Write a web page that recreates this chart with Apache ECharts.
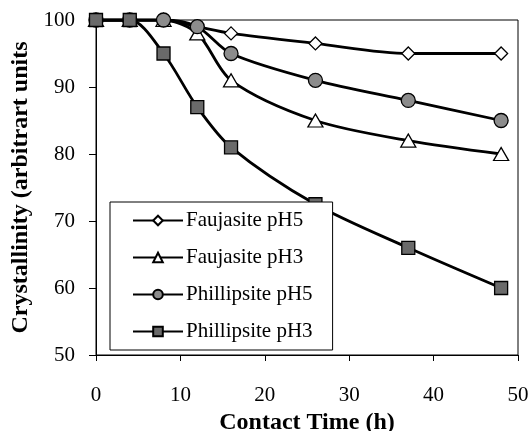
<!DOCTYPE html>
<html>
<head>
<meta charset="utf-8">
<script src="https://cdn.jsdelivr.net/npm/echarts@6/dist/echarts.min.js"></script>
<style>
  html, body { margin: 0; padding: 0; background: #fff; }
  #main { width: 531px; height: 431px; }
</style>
</head>
<body>
<div id="main"></div>
<script>
// contact time (h)
var hours = [0, 4, 8, 12, 16, 26, 37, 48];

// crystallinity values
var faujasitePH5 = [100, 100, 100, 99, 98, 96.5, 95, 95];
var faujasitePH3 = [100, 100, 100, 98, 91, 85, 82, 80];
var phillipsitePH5 = [100, 100, 100, 99, 95, 91, 88, 85];
var phillipsitePH3 = [100, 100, 95, 87, 81, 72.5, 66, 60];

var seriesNames = ['Faujasite pH5', 'Faujasite pH3', 'Phillipsite pH5', 'Phillipsite pH3'];

function pairs(ys) {
  return hours.map(function (h, i) { return [h, ys[i]]; });
}

var font = '"Liberation Serif", "Times New Roman", serif';

function makeSeries(name, ys, symbol, size, fill) {
  return {
    name: name,
    type: 'line',
    data: pairs(ys),
    smooth: 0.3,
    symbol: symbol,
    symbolSize: size,
    lineStyle: { color: '#000', width: 2.8 },
    itemStyle: { color: fill, borderColor: '#000', borderWidth: 1.3 },
    emphasis: { disabled: true }
  };
}

var chart = echarts.init(document.getElementById('main'));
chart.setOption({
  animation: false,
  backgroundColor: '#fff',
  grid: {
    left: 96, top: 20, right: 13, bottom: 76,
    outerBoundsMode: 'none',
    containLabel: false,
    show: true, borderColor: '#000', borderWidth: 1
  },
  legend: {
    orient: 'vertical',
    left: 110, top: 202,
    padding: [8, 20, 8, 22],
    itemWidth: 50, itemHeight: 12, itemGap: 16,
    backgroundColor: '#fff',
    borderColor: '#000', borderWidth: 1,
    textStyle: { fontFamily: font, fontSize: 21, color: '#000', padding: [0, 0, 0, -2] },
    data: seriesNames
  },
  xAxis: {
    type: 'value',
    min: 0, max: 50, interval: 10,
    name: 'Contact Time (h)',
    nameLocation: 'middle',
    nameGap: 50,
    nameTextStyle: { fontFamily: font, fontSize: 24, fontWeight: 'bold', color: '#000' },
    axisLine: { lineStyle: { color: '#000', width: 1 } },
    axisTick: { inside: false, length: 6, lineStyle: { color: '#000' } },
    axisLabel: { fontFamily: font, fontSize: 21, color: '#000', margin: 30 },
    splitLine: { show: false }
  },
  yAxis: {
    type: 'value',
    min: 50, max: 100, interval: 10,
    name: 'Crystallinity (arbitrart units',
    nameLocation: 'middle',
    nameGap: 61,
    nameTextStyle: { fontFamily: font, fontSize: 24, fontWeight: 'bold', color: '#000' },
    axisLine: { lineStyle: { color: '#000', width: 1 } },
    axisTick: { inside: false, length: 7, lineStyle: { color: '#000' } },
    axisLabel: { fontFamily: font, fontSize: 21, color: '#000', margin: 21 },
    splitLine: { show: false }
  },
  series: [
    makeSeries(seriesNames[0], faujasitePH5, 'diamond', [13, 13], '#fff'),
    makeSeries(seriesNames[1], faujasitePH3, 'triangle', [15, 13], '#fff'),
    makeSeries(seriesNames[2], phillipsitePH5, 'circle', 14, '#8c8c8c'),
    makeSeries(seriesNames[3], phillipsitePH3, 'rect', 13, '#6a6a6a')
  ]
});
</script>
</body>
</html>
